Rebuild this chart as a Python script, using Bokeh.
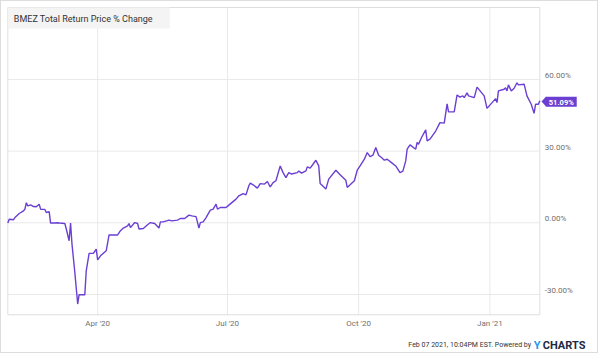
import pandas as pd
from bokeh.plotting import figure
from bokeh.models import Range1d, Label
from bokeh.embed import file_html
from bokeh.resources import INLINE

title_text = "BMEZ Total Return Price % Change"
x_tick_dates = ["2020-04-01", "2020-07-01", "2020-10-01", "2021-01-01"]
x_tick_labels = ["Apr '20", "Jul '20", "Oct '20", "Jan '21"]
y_ticks = [-30, 0, 30, 60]
y_tick_labels = ["-30.00%", "0.00%", "30.00%", "60.00%"]
last_label = "51.09%"
footer_text = "Feb 07 2021, 10:04PM EST.  Powered by"
brand_a = "Y"
brand_b = "CHARTS"
x_start, x_end = "2020-01-29", "2021-02-05"
y_start, y_end = -38.5, 90.1

dates = [
    "2020-01-29", "2020-01-30", "2020-02-02", "2020-02-03", "2020-02-06", "2020-02-09", "2020-02-10", "2020-02-11", "2020-02-12", "2020-02-14",
    "2020-02-16", "2020-02-18", "2020-02-20", "2020-02-21", "2020-02-24", "2020-02-25", "2020-02-27", "2020-02-28", "2020-03-02", "2020-03-04",
    "2020-03-05", "2020-03-09", "2020-03-10", "2020-03-12", "2020-03-13", "2020-03-14", "2020-03-16", "2020-03-18", "2020-03-19", "2020-03-23",
    "2020-03-24", "2020-03-26", "2020-03-29", "2020-03-31", "2020-04-01", "2020-04-03", "2020-04-07", "2020-04-09", "2020-04-15", "2020-04-17",
    "2020-04-19", "2020-04-22", "2020-04-23", "2020-04-24", "2020-04-27", "2020-04-29", "2020-04-30", "2020-05-03", "2020-05-06", "2020-05-08",
    "2020-05-11", "2020-05-14", "2020-05-15", "2020-05-17", "2020-05-21", "2020-05-23", "2020-05-27", "2020-05-29", "2020-06-01", "2020-06-04",
    "2020-06-06", "2020-06-09", "2020-06-11", "2020-06-12", "2020-06-14", "2020-06-16", "2020-06-19", "2020-06-21", "2020-06-23", "2020-06-24",
    "2020-06-26", "2020-06-30", "2020-07-02", "2020-07-07", "2020-07-09", "2020-07-12", "2020-07-14", "2020-07-16", "2020-07-17", "2020-07-19",
    "2020-07-22", "2020-07-24", "2020-07-27", "2020-07-29", "2020-07-31", "2020-08-02", "2020-08-04", "2020-08-07", "2020-08-09", "2020-08-11",
    "2020-08-13", "2020-08-15", "2020-08-19", "2020-08-20", "2020-08-22", "2020-08-25", "2020-08-26", "2020-08-28", "2020-08-30", "2020-09-01",
    "2020-09-03", "2020-09-04", "2020-09-08", "2020-09-10", "2020-09-15", "2020-09-18", "2020-09-22", "2020-09-23", "2020-09-25", "2020-09-28",
    "2020-09-30", "2020-10-02", "2020-10-05", "2020-10-07", "2020-10-09", "2020-10-11", "2020-10-13", "2020-10-15", "2020-10-17", "2020-10-19",
    "2020-10-21", "2020-10-24", "2020-10-27", "2020-10-30", "2020-11-01", "2020-11-03", "2020-11-04", "2020-11-06", "2020-11-10", "2020-11-11",
    "2020-11-12", "2020-11-14", "2020-11-17", "2020-11-18", "2020-11-20", "2020-11-24", "2020-11-27", "2020-11-30", "2020-12-02", "2020-12-03",
    "2020-12-07", "2020-12-09", "2020-12-11", "2020-12-13", "2020-12-14", "2020-12-16", "2020-12-17", "2020-12-21", "2020-12-23", "2020-12-28",
    "2020-12-30", "2021-01-03", "2021-01-05", "2021-01-06", "2021-01-07", "2021-01-11", "2021-01-12", "2021-01-13", "2021-01-14", "2021-01-16",
    "2021-01-18", "2021-01-20", "2021-01-21", "2021-01-25", "2021-01-27", "2021-01-30", "2021-02-01", "2021-02-02", "2021-02-04", "2021-02-05",
]

values = [
    -0.1, 1.5, 1.3, 2.2, 3.9, 5.0, 5.7, 8.4, 7.1, 7.5,
    6.8, 6.7, 7.8, 5.7, 5.6, 4.3, 4.7, -0.1, -0.1, 0.0,
    -0.1, -0.3, -2.6, -7.5, -0.1, -8.9, -20.8, -34.0, -30.1, -30.1,
    -20.1, -12.8, -12.8, -11.0, -15.5, -13.8, -11.7, -5.1, -5.1, -3.3,
    -2.2, -1.3, -0.3, -2.0, 0.1, -0.3, -2.6, -2.4, -0.8, 0.1,
    -0.3, -2.2, 0.4, 0.4, 1.1, 0.8, 1.1, 1.8, 1.8, 3.2,
    2.9, 2.6, -2.2, 0.1, 0.4, 2.2, 5.3, 5.7, 7.8, 5.7,
    6.4, 6.4, 7.4, 9.9, 11.3, 12.2, 11.7, 15.5, 16.6, 15.9,
    14.5, 16.4, 16.2, 17.3, 15.0, 16.8, 17.6, 23.8, 21.0, 18.9,
    21.0, 20.4, 21.0, 21.7, 20.8, 21.7, 23.4, 22.9, 24.5, 26.2,
    23.8, 16.4, 14.1, 18.3, 22.0, 20.1, 17.8, 14.8, 15.9, 17.6,
    22.0, 23.8, 26.6, 29.4, 27.7, 28.3, 31.5, 28.3, 27.3, 26.2,
    26.6, 25.2, 23.8, 21.0, 21.6, 25.9, 30.8, 32.6, 30.8, 33.6,
    32.9, 35.6, 38.9, 34.3, 35.0, 38.4, 41.9, 41.7, 49.8, 46.4,
    46.4, 53.5, 52.6, 53.1, 52.4, 54.4, 53.1, 52.4, 56.8, 53.1,
    47.9, 50.6, 51.9, 50.3, 55.2, 55.9, 56.5, 55.2, 57.7, 55.2,
    56.3, 58.6, 57.7, 58.0, 53.1, 49.6, 45.8, 49.6, 49.6, 51.09,
]

LINE = "#6a3fd1"
GRID = "#e9e9e9"
FRAME = "#dedede"
TICK_COLOR = "#707070"
TEXT = "#333333"
FONT = "Roboto"


def ms(s):
    return int(pd.Timestamp(s).value // 1_000_000)


# canvas (inside a 1px css border) and the plot area within it, in pixels
W, H = 598, 353
PL, PR, PT, PB = 6.3, 538.3, 6.0, 313.3

x0, x1 = ms(x_start), ms(x_end)
kx = (x1 - x0) / (PR - PL)          # ms per pixel
ky = (y_end - y_start) / (PB - PT)  # % per pixel

p = figure(
    width=W, height=H,
    x_axis_type="datetime", x_axis_location=None, y_axis_location=None,
    output_backend="svg", toolbar_location=None,
    x_range=Range1d(x0 - PL * kx, x1 + (W - PR) * kx),
    y_range=Range1d(y_start - (H - PB) * ky, y_end + PT * ky),
    min_border=0,
)
p.styles = {"border": "1px solid #dddddd"}
p.background_fill_color = "white"
p.border_fill_color = "white"
p.outline_line_color = None
p.grid.visible = False

xt = [ms(d) for d in x_tick_dates]

# grid lines and plot-area frame
p.segment(x0=xt, y0=[y_start] * len(xt), x1=xt, y1=[y_end] * len(xt),
          line_color=GRID, line_width=1)
p.segment(x0=[x0] * len(y_ticks), y0=y_ticks, x1=[x1] * len(y_ticks), y1=y_ticks,
          line_color=GRID, line_width=1)
p.quad(left=[x0], right=[x1], bottom=[y_start], top=[y_end],
       fill_color=None, line_color=FRAME, line_width=1)

# data line
p.line(pd.to_datetime(dates), values, line_color=LINE, line_width=1.4)

# tick labels
for t, lab in zip(xt, x_tick_labels):
    p.add_layout(Label(x=t, y=y_start, text=lab, text_font=FONT, text_font_size="8px",
                       text_color=TICK_COLOR, text_align="center", text_baseline="middle",
                       y_offset=-8.5))
for v, lab in zip(y_ticks, y_tick_labels):
    p.add_layout(Label(x=x1, y=v, text=lab, text_font=FONT, text_font_size="8px",
                       text_color=TICK_COLOR, text_align="left", text_baseline="middle",
                       x_offset=5, y_offset=4))

# title box
p.add_layout(Label(
    x=x0, y=y_end, text=title_text,
    text_font=FONT, text_font_size="9px", text_color=TEXT,
    text_align="left", text_baseline="top",
    background_fill_color="#f4f4f4",
    padding=dict(left=6, right=17, top=6, bottom=5),
))

# last value tag
xl, yl = ms(dates[-1]), values[-1]
yc = yl - 0.8 * ky
p.patch([xl + 1.7 * kx, xl + 6.3 * kx, xl + 6.3 * kx], [yc, yc + 5 * ky, yc - 5 * ky],
        fill_color=LINE, line_color=None)
p.add_layout(Label(
    x=xl, y=yl, text=last_label,
    text_font=FONT, text_font_size="7.5px", text_font_style="bold", text_color="white",
    text_align="left", text_baseline="middle", x_offset=6, y_offset=-1,
    background_fill_color=LINE,
    padding=dict(left=3, right=3, top=1, bottom=0),
))

# footer
p.add_layout(Label(
    x=x1, y=y_start, text=footer_text,
    text_font=FONT, text_font_size="7px", text_color=TEXT,
    text_align="right", text_baseline="middle", x_offset=-7, y_offset=-30,
))
p.add_layout(Label(
    x=x1, y=y_start, text=brand_a,
    text_font=FONT, text_font_size="11px", text_font_style="bold", text_color="#1e96f0",
    text_align="left", text_baseline="middle", x_offset=-6, y_offset=-30.5,
))
p.add_layout(Label(
    x=x1, y=y_start, text=brand_b,
    text_font=FONT, text_font_size="11px", text_font_style="bold", text_color="#1c2a43",
    text_align="left", text_baseline="middle", x_offset=3, y_offset=-30.5,
))

open("out.html", "w").write(file_html(p, INLINE))
